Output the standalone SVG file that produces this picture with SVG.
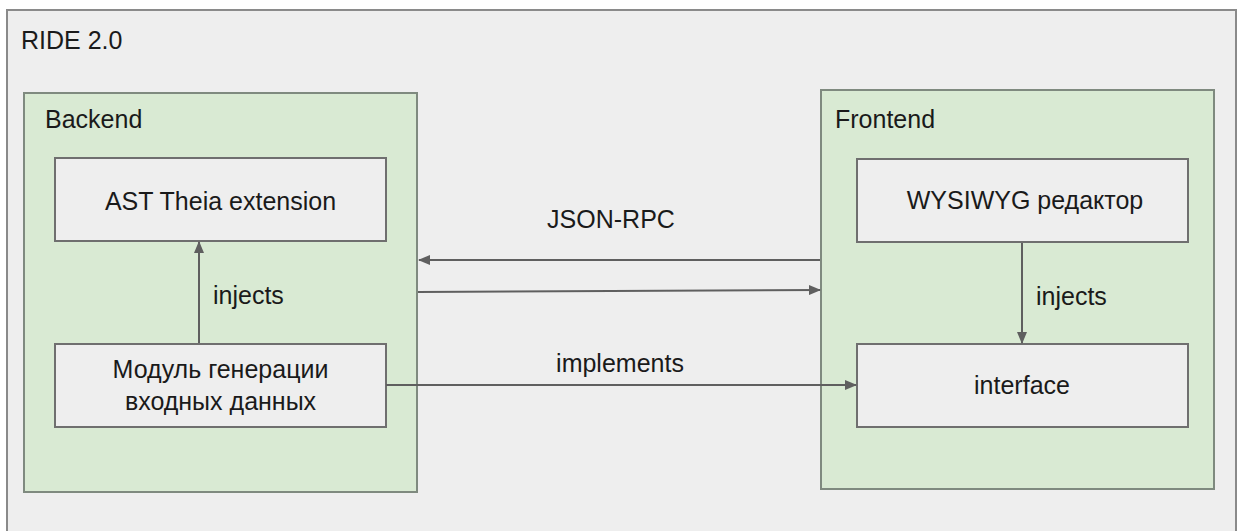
<svg xmlns="http://www.w3.org/2000/svg" width="1242" height="531" viewBox="0 0 1242 531">
  <style>
    .frame { fill: #eeeeee; stroke: #8a8a8a; stroke-width: 2; }
    .group { fill: #d9ead3; stroke: #7f8a7f; stroke-width: 2; }
    .box { fill: #eeeeee; stroke: #6f6f6f; stroke-width: 2; }
    .label { font-family: "Liberation Sans", Arial, sans-serif; font-size: 25px; fill: #1a1a1a; }
    .mid { text-anchor: middle; }
    .edge { stroke: #5f5f5f; stroke-width: 2; fill: none; marker-end: url(#arrow); }
  </style>
  <defs>
    <marker id="arrow" viewBox="0 0 12 10" refX="11" refY="5" markerWidth="12" markerHeight="10" markerUnits="userSpaceOnUse" orient="auto">
      <path d="M0,0 L12,5 L0,10 Z" fill="#5f5f5f"/>
    </marker>
  </defs>

  <!-- Outer system frame -->
  <g id="ride">
    <rect class="frame" x="7" y="10" width="1229" height="540"/>
    <text class="label" x="21" y="49">RIDE 2.0</text>
  </g>

  <!-- Backend container -->
  <g id="backend">
    <rect class="group" x="24" y="93" width="393" height="399"/>
    <text class="label" x="45" y="128">Backend</text>
  </g>

  <!-- Frontend container -->
  <g id="frontend">
    <rect class="group" x="821" y="90" width="393" height="399"/>
    <text class="label" x="835" y="128">Frontend</text>
  </g>

  <g id="ast-extension">
    <rect class="box" x="55" y="158" width="331" height="83"/>
    <text class="label mid" x="220.5" y="210">AST Theia extension</text>
  </g>

  <g id="input-generator">
    <rect class="box" x="55" y="344" width="331" height="83"/>
    <text class="label mid" x="220.5" y="378">Модуль генерации</text>
    <text class="label mid" x="220.5" y="410">входных данных</text>
  </g>

  <g id="wysiwyg">
    <rect class="box" x="857" y="159" width="331" height="83"/>
    <text class="label mid" x="1025" y="209">WYSIWYG редактор</text>
  </g>

  <g id="interface">
    <rect class="box" x="857" y="344" width="331" height="83"/>
    <text class="label mid" x="1022" y="394">interface</text>
  </g>

  <!-- Connectors -->
  <g id="connectors">
    <line class="edge" x1="199" y1="343" x2="199" y2="242"/>
    <text class="label" x="213" y="304">injects</text>

    <line class="edge" x1="1022" y1="243" x2="1022" y2="343"/>
    <text class="label" x="1036" y="305">injects</text>

    <line class="edge" x1="820" y1="260" x2="419" y2="260"/>
    <line class="edge" x1="418" y1="292" x2="820" y2="290"/>
    <text class="label mid" x="611" y="228">JSON-RPC</text>

    <line class="edge" x1="386" y1="385" x2="856" y2="385"/>
    <text class="label mid" x="620" y="372">implements</text>
  </g>
</svg>
